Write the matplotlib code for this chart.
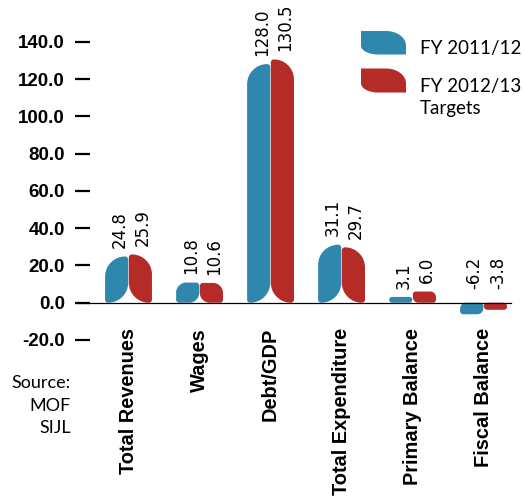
import matplotlib
matplotlib.use('Agg')
import matplotlib.pyplot as plt
from matplotlib.path import Path
from matplotlib.patches import PathPatch

# 数据
categories = ['Total Revenues', 'Wages', 'Debt/GDP', 'Total Expenditure',
              'Primary Balance', 'Fiscal Balance']
fy_2011 = [24.8, 10.8, 128.0, 31.1, 3.1, -6.2]
fy_2012 = [25.9, 10.6, 130.5, 29.7, 6.0, -3.8]
series_names = ['FY 2011/12', 'FY 2012/13', 'Targets']
source_lines = ['Source:', 'MOF', 'SIJL']
yticks = [-20, 0, 20, 40, 60, 80, 100, 120, 140]

BLUE = '#2f87ad'
RED = '#b52b27'
K = 0.5523


def leaf_path(x0, y0, x1, y1, tl, tr, br, bl):
    # 每个角的半径 (rx, ry)，圆角用贝塞尔曲线近似
    verts = [(x0 + bl[0], y0), (x1 - br[0], y0)]
    codes = [Path.MOVETO, Path.LINETO]
    verts += [(x1 - br[0] + K * br[0], y0), (x1, y0 + br[1] - K * br[1]), (x1, y0 + br[1])]
    codes += [Path.CURVE4] * 3
    verts += [(x1, y1 - tr[1])]
    codes += [Path.LINETO]
    verts += [(x1, y1 - tr[1] + K * tr[1]), (x1 - tr[0] + K * tr[0], y1), (x1 - tr[0], y1)]
    codes += [Path.CURVE4] * 3
    verts += [(x0 + tl[0], y1)]
    codes += [Path.LINETO]
    verts += [(x0 + tl[0] - K * tl[0], y1), (x0, y1 - tl[1] + K * tl[1]), (x0, y1 - tl[1])]
    codes += [Path.CURVE4] * 3
    verts += [(x0, y0 + bl[1])]
    codes += [Path.LINETO]
    verts += [(x0, y0 + bl[1] - K * bl[1]), (x0 + bl[0] - K * bl[0], y0), (x0 + bl[0], y0)]
    codes += [Path.CURVE4] * 3
    verts += [(x0 + bl[0], y0)]
    codes += [Path.CLOSEPOLY]
    return Path(verts, codes)


fig = plt.figure(figsize=(5.24, 5.00), dpi=100)
ax = fig.add_axes([0.1843, 0.3014, 0.786, 0.6897])
ax.set_xlim(-0.45, 5.35)
ax.set_ylim(-25, 160)

# 像素与数据单位换算
px_x = 71.0
px_y = 1.864
width = 0.33
gap = 0.004


def add_bar(x0, x1, v, color, big_corners):
    y0, y1 = min(v, 0), max(v, 0)
    h_px = (y1 - y0) * px_y
    R = min(20, h_px / 2)
    r = min(3, h_px / 2)
    big = (R / px_x, R / px_y)
    small = (r / px_x, r / px_y)
    c = {k: (big if k in big_corners else small) for k in ['tl', 'tr', 'br', 'bl']}
    p = leaf_path(x0, y0, x1, y1, c['tl'], c['tr'], c['br'], c['bl'])
    ax.add_patch(PathPatch(p, facecolor=color, edgecolor='none'))


for i, (a, b) in enumerate(zip(fy_2011, fy_2012)):
    add_bar(i - width, i - gap, a, BLUE, ('tl', 'br'))
    add_bar(i + gap, i + width, b, RED, ('tr', 'bl'))
    for xc, v in [(i - width / 2, a), (i + width / 2, b)]:
        yl = v + 4.5 if v >= 0 else 7.5
        ax.text(xc + 0.04, yl, '%.1f' % v, rotation=90, ha='center', va='bottom',
                fontsize=12, family='DejaVu Sans')
    ax.text(i, -13.5, categories[i], rotation=90, ha='center', va='top',
            fontsize=14.4, fontweight='bold', family='Liberation Sans')

# 零线
ax.plot([-0.739, 5.38], [0, 0], color='black', lw=0.9, clip_on=False, zorder=3)

# 坐标轴
for s in ax.spines.values():
    s.set_visible(False)
ax.spines['left'].set_position(('outward', 5))
ax.set_xticks([])
ax.set_yticks(yticks)
ax.set_yticklabels(['%.1f' % t for t in yticks], fontsize=13.5, fontweight='bold',
                   family='Liberation Sans')
ax.tick_params(axis='y', length=11, width=1.6, pad=6.7, color='black')


# 图例
def fig_leaf(x, y, w, h, color):
    # x, y 为左上角像素坐标
    W, H = 524.0, 500.0
    x0, x1 = x / W, (x + w) / W
    y1, y0 = 1 - y / H, 1 - (y + h) / H
    tr = (20 / W, 0.62 * h / H)
    bl = (17 / W, 0.38 * h / H)
    p = leaf_path(x0, y0, x1, y1, (0, 0), tr, (0, 0), bl)
    fig.add_artist(PathPatch(p, facecolor=color, edgecolor='none', transform=fig.transFigure))


fig_leaf(361, 31, 45, 23.5, BLUE)
fig_leaf(361, 68.5, 45, 24, RED)
for name, yb in zip(series_names, [54, 92, 114]):
    fig.text(420 / 524, 1 - yb / 500, name, fontsize=13.5, family='Lato',
             va='baseline', ha='left')

# 来源
for line, yc in zip(source_lines, [383, 406, 428]):
    fig.text(71 / 524, 1 - yc / 500, line, fontsize=13, family='Lato',
             ha='right', va='center')
fig.text(17 / 524, 1 + 2.5 / 500, '(% of GDP)', fontsize=13, family='Lato',
         ha='left', va='baseline')

fig.savefig('out.png', dpi=100)
